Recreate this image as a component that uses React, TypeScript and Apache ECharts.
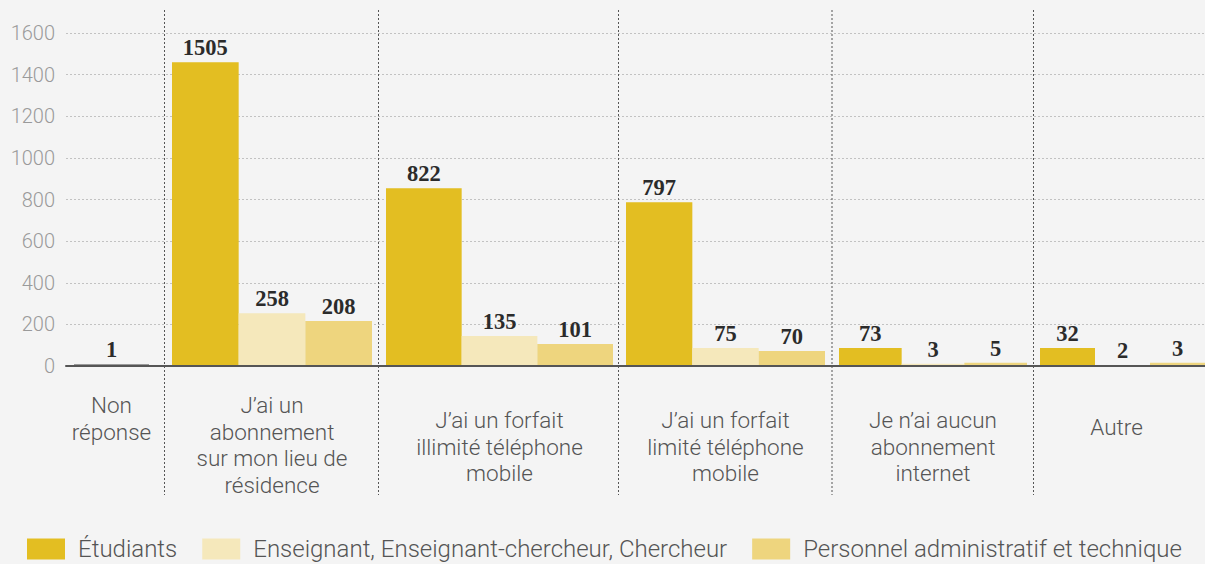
import React, { useEffect, useRef } from "react";
import * as echarts from "echarts";

// ---- data ----
const categories = [
  "Non\nréponse",
  "J’ai un\nabonnement\nsur mon lieu de\nrésidence",
  "J’ai un forfait\nillimité téléphone\nmobile",
  "J’ai un forfait\nlimité téléphone\nmobile",
  "Je n’ai aucun\nabonnement\ninternet",
  "Autre",
];
const seriesNames = [
  "Étudiants",
  "Enseignant, Enseignant-chercheur, Chercheur",
  "Personnel administratif et technique",
];
// values printed above the bars
const etudiantsLabels = [1, 1505, 822, 797, 73, 32];
const enseignantsLabels = [null, 258, 135, 75, 3, 2];
const personnelLabels = [null, 208, 101, 70, 5, 3];
// bar heights as drawn in the picture
const etudiantsBars = [10, 1459, 854, 787, 86, 86];
const enseignantsBars = [null, 254, 144, 86, 11, 5];
const personnelBars = [null, 216, 106, 72, 16, 16];
const yMin = 0;
const yMax = 1600;
const yInterval = 200;

// ---- layout / style ----
const colors = ["#e3be22", "#f5e8bb", "#eed57e"];
const noAnswerColor = "#9a9a9a";
const columns = [
  { left: 74, width: 75, margin: 26, pad: 0 },
  { left: 172, width: 200, margin: 26, pad: 0 },
  { left: 386, width: 227, margin: 41, pad: 0 },
  { left: 626, width: 199, margin: 41, pad: 0 },
  { left: 839, width: 188, margin: 41, pad: 0 },
  { left: 1040, width: 171, margin: 48, pad: 12 },
];
const separatorsX = [164.5, 378.5, 618.5, 832, 1033.5];
const GRID_TOP = 33;
const GRID_H = 333;
const sansFont = "Roboto, 'Noto Sans', sans-serif";

export default function App() {
  const ref = useRef<HTMLDivElement>(null);
  useEffect(() => {
    if (!ref.current) return;
    const chart = echarts.init(ref.current, undefined, { renderer: "svg" });
    const barSets = [etudiantsBars, enseignantsBars, personnelBars];
    const labelSets = [etudiantsLabels, enseignantsLabels, personnelLabels];

    const grids: any[] = [
      { left: 66, right: 0, top: GRID_TOP, height: GRID_H },
    ];
    const xAxes: any[] = [
      {
        type: "category",
        gridIndex: 0,
        data: [""],
        z: 10,
        axisLine: { show: true, lineStyle: { color: "#555", width: 2 } },
        axisTick: { show: false },
        axisLabel: { show: false },
        splitLine: { show: false },
      },
    ];
    const yAxes: any[] = [
      {
        type: "value",
        gridIndex: 0,
        min: yMin,
        max: yMax,
        interval: yInterval,
        axisLine: { show: false },
        axisTick: { show: false },
        axisLabel: {
          color: "#9a9a9a",
          fontFamily: sansFont,
          fontWeight: 300,
          fontSize: 20,
          margin: 11,
          formatter: (v: number) => String(v),
        },
        splitLine: {
          show: true,
          lineStyle: { color: "#c2c2c2", width: 1, type: [2, 2] },
        },
      },
    ];
    const series: any[] = [];

    categories.forEach((cat, c) => {
      const col = columns[c];
      const gi = c + 1;
      grids.push({ left: col.left, width: col.width, top: GRID_TOP, height: GRID_H });
      xAxes.push({
        type: "category",
        gridIndex: gi,
        data: [cat],
        axisLine: { show: false },
        axisTick: { show: false },
        splitLine: { show: false },
        axisLabel: {
          interval: 0,
          color: "#555",
          fontFamily: sansFont,
          fontWeight: 300,
          fontSize: 22.5,
          lineHeight: 26.5,
          margin: col.margin,
          verticalAlign: "top",
          align: "center",
          padding: [0, col.pad, 0, 0],
        },
      });
      yAxes.push({
        type: "value",
        gridIndex: gi,
        min: yMin,
        max: yMax,
        interval: yInterval,
        show: false,
        splitLine: { show: false },
      });
      barSets.forEach((bars, s) => {
        const v = bars[c];
        if (v === null || v === undefined) return;
        const lbl = labelSets[s][c];
        const datum: any = { value: v };
        if (c === 0) datum.itemStyle = { color: noAnswerColor };
        series.push({
          type: "bar",
          name: seriesNames[s],
          xAxisIndex: gi,
          yAxisIndex: gi,
          barGap: "0%",
          barCategoryGap: "0%",
          itemStyle: { color: colors[s] },
          data: [datum],
          label: {
            show: true,
            position: "top",
            distance: 3,
            formatter: () => String(lbl),
            color: "#2b2b2b",
            fontFamily: "'Liberation Serif', 'DejaVu Serif', serif",
            fontWeight: "bold",
            fontSize: 22.5,
          },
        });
      });
    });

    const graphics = separatorsX.map((x) => ({
      type: "line",
      z: 5,
      shape: { x1: x, y1: 10, x2: x, y2: 495 },
      style: { stroke: "#555", lineWidth: 1, lineDash: [2, 2] },
    }));

    chart.setOption({
      animation: false,
      backgroundColor: "#f4f4f4",
      grid: grids,
      xAxis: xAxes,
      yAxis: yAxes,
      series,
      graphic: graphics,
      legend: {
        data: seriesNames.map((n) => ({ name: n, icon: "rect" })),
        left: 27,
        top: 537,
        padding: 0,
        itemWidth: 38,
        itemHeight: 21,
        itemGap: 25,
        selectedMode: false,
        textStyle: {
          color: "#555",
          fontFamily: sansFont,
          fontWeight: 300,
          fontSize: 24,
          lineHeight: 21,
          padding: [0, 0, 0, 8],
        },
      },
    });
    return () => chart.dispose();
  }, []);
  return (
    <div
      ref={ref}
      style={{ position: "absolute", left: 0, top: 0, width: 1205, height: 564 }}
    />
  );
}
